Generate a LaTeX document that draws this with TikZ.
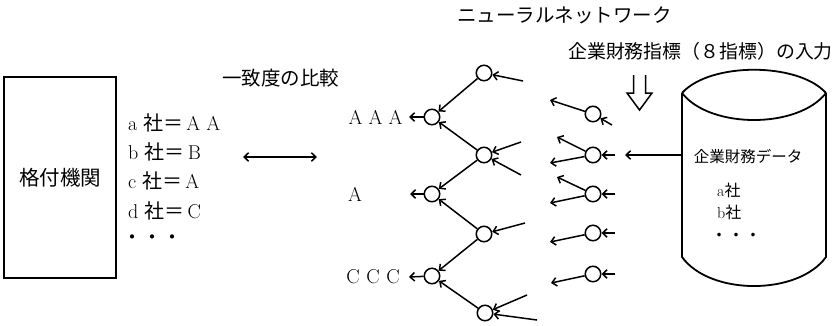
\documentclass[tikz,border=0pt]{standalone}
\usepackage{fontspec}
\newfontfamily\cjk{Noto Sans CJK JP}
\usetikzlibrary{arrows.meta}
\newcommand\fwbox[1]{\makebox[20pt]{#1}}
\newcommand\fsz[1]{\fontsize{#1}{#1}\selectfont}
\begin{document}
\begin{tikzpicture}[x=1pt,y=-1pt,
  neuron/.style={circle,draw,line width=1.5pt,minimum size=15.5pt,inner sep=0pt},
  conn/.style={line width=1.5pt,-{Straight Barb[length=4.5pt,width=8.5pt]}},
  dconn/.style={line width=1.5pt,{Straight Barb[length=4.5pt,width=8.5pt]}-{Straight Barb[length=4.5pt,width=8.5pt]}},
  jp/.style={inner sep=0pt,font=\cjk\fsz{19.5pt}},
  lat/.style={inner sep=0pt,font=\fsz{20pt}},
  shape line/.style={line width=1.8pt}]
\useasboundingbox (0,0) rectangle (840,325);

% titles
\node[jp] (tnn) at (564.5,15.5) {ニューラルネットワーク};
\node[jp,anchor=west,font=\cjk\fsz{18.9pt}] (tin) at (568,51) {企業財務指標（８指標）の入力};
\node[jp,anchor=west] (tcmp) at (222,78) {一致度の比較};

% rating agency box
\node[draw,shape line,minimum width=112pt,minimum height=201pt,inner sep=0pt,
      font=\cjk\fsz{20.5pt}] (box) at (60,177.5) {格付機関};

% ratings
\node[lat,anchor=west] (ra) at (128,123) {a\hspace{6pt}{\cjk 社＝}\fwbox{A}\fwbox{A}};
\node[lat,anchor=west] (rb) at (128,152) {b\hspace{6pt}{\cjk 社＝}\fwbox{B}};
\node[lat,anchor=west] (rc) at (128,181) {c\hspace{6pt}{\cjk 社＝}\fwbox{A}};
\node[lat,anchor=west] (rd) at (128,211) {d\hspace{6pt}{\cjk 社＝}\fwbox{C}};
\node[lat,anchor=west,font=\cjk\fsz{20pt}] (rdots) at (122,240) {・・・};

% comparison arrow
\coordinate (cmpL) at (243,157);
\coordinate (cmpR) at (317,157);
\draw[dconn] (cmpL) -- (cmpR);

% output layer
\node[neuron] (o1) at (432,117) {};
\node[neuron] (o2) at (432,194) {};
\node[neuron] (o3) at (432,276) {};
% hidden layer
\node[neuron] (h1) at (484,73) {};
\node[neuron] (h2) at (484,155) {};
\node[neuron] (h3) at (484,234) {};
\node[neuron] (h4) at (485,313) {};
% input layer
\node[neuron] (i1) at (593,114) {};
\node[neuron] (i2) at (593,155) {};
\node[neuron] (i3) at (593,194) {};
\node[neuron] (i4) at (593,233) {};
\node[neuron] (i5) at (593,274) {};

% output labels
\node[lat] (lAAA) at (375.5,117) {\fwbox{A}\fwbox{A}\fwbox{A}};
\node[lat] (lA) at (355,194) {A};
\node[lat] (lCCC) at (373,277) {\fwbox{C}\fwbox{C}\fwbox{C}};
\coordinate (t1) at (409,117);
\coordinate (t2) at (410,194);
\coordinate (t3) at (409,277);
\draw[conn] (o1) -- (t1);
\draw[conn] (o2) -- (t2);
\draw[conn] (o3) -- (t3);

% hidden -> output
\draw[conn] (h1) -- (o1);
\draw[conn] (h2) -- (o1);
\draw[conn] (h2) -- (o2);
\draw[conn] (h3) -- (o2);
\draw[conn] (h3) -- (o3);
\draw[conn] (h4) -- (o3);

% free inputs to hidden
\coordinate (h1in) at (523,81);
\coordinate (h2a) at (521,142);
\coordinate (h2b) at (521,175);
\coordinate (h3in) at (525,223);
\coordinate (h4a) at (527,295);
\coordinate (h4b) at (537,320);
\draw[conn] (h1in) -- (h1);
\draw[conn] (h2a) -- (h2);
\draw[conn] (h2b) -- (h2);
\draw[conn] (h3in) -- (h3);
\draw[conn] (h4a) -- (h4);
\draw[conn] (h4b) -- (h4);

% input outputs (free)
\coordinate (i1o) at (550,100);
\coordinate (i2a) at (557,137);
\coordinate (i2b) at (550,163);
\coordinate (i3a) at (557,177);
\coordinate (i3b) at (550,203);
\coordinate (i4o) at (550,242);
\coordinate (i5o) at (551,283);
\draw[conn] (i1) -- (i1o);
\draw[conn] (i2) -- (i2a);
\draw[conn] (i2) -- (i2b);
\draw[conn] (i3) -- (i3a);
\draw[conn] (i3) -- (i3b);
\draw[conn] (i4) -- (i4o);
\draw[conn] (i5) -- (i5o);

% inputs into input layer
\coordinate (i1in) at (612,125);
\coordinate (i2in) at (615,155);
\coordinate (i3in) at (615,194);
\coordinate (i4in) at (615,233);
\coordinate (i5in) at (615,274);
\draw[conn] (i1in) -- (i1);
\draw[conn] (i2in) -- (i2);
\draw[conn] (i3in) -- (i3);
\draw[conn] (i4in) -- (i4);
\draw[conn] (i5in) -- (i5);

% hollow down arrow
\draw[line width=1.5pt,line join=miter] (633.5,75) -- (633.5,93) -- (627,93) -- (639.5,110) -- (652,93) -- (645.5,93) -- (645.5,75);

% database cylinder
\draw[shape line] (682,93) .. controls (710,62) and (798,62) .. (826,93);
\draw[shape line] (682,93) .. controls (710,129) and (798,129) .. (826,93);
\draw[shape line] (682,93) -- (682,257) .. controls (710,295.7) and (798,295.7) .. (826,257) -- (826,93);
\coordinate (cylL) at (682,155);
\coordinate (cylT) at (625,155);
\draw[conn] (cylL) -- (cylT);

\node[jp,font=\cjk\fsz{15.5pt}] (dbt) at (748,157) {企業財務データ};
\node[anchor=west,inner sep=0pt,font=\fsz{16pt}] (dba) at (717,190) {a{\cjk 社}};
\node[anchor=west,inner sep=0pt,font=\fsz{16pt}] (dbb) at (717,212) {b{\cjk 社}};
\node[anchor=west,inner sep=0pt,font=\cjk\fsz{17pt}] (dbd) at (710.5,237) {・・・};
\end{tikzpicture}
\end{document}
